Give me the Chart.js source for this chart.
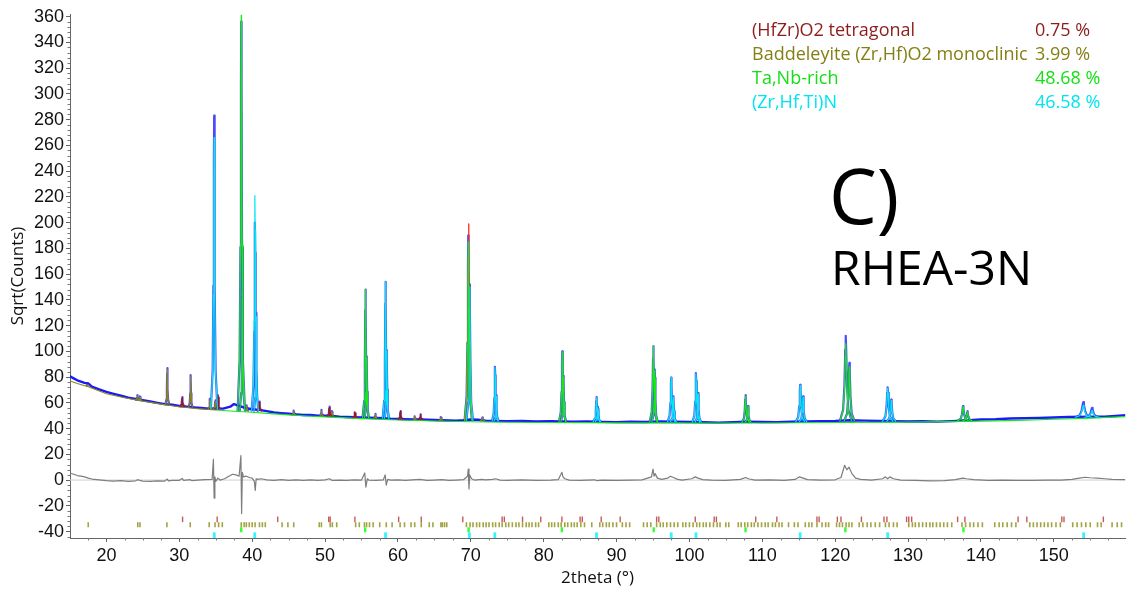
<!DOCTYPE html>
<html>
<head>
<meta charset="utf-8">
<title>RHEA-3N</title>
<script src="https://cdn.jsdelivr.net/npm/chart.js@4.4.1/dist/chart.umd.min.js"></script>
<style>
  html, body { margin: 0; padding: 0; background: #fff; }
  #wrap { position: relative; width: 1132px; height: 590px; }
  #legend { position: absolute; left: 752px; top: 17px; font-family: "Open Sans", sans-serif; font-size: 18px; line-height: 24px; }
  #legend .row { position: relative; height: 24px; white-space: nowrap; }
  #legend .pct { position: absolute; left: 283px; top: 0; }
  .tag { position: absolute; font-family: "Open Sans", sans-serif; color: #000; line-height: 1; white-space: nowrap; }
</style>
</head>
<body>
<div id="wrap">
  <canvas id="xrd" width="1132" height="590"></canvas>
  <div id="legend"></div>
  <div class="tag" style="left:829px; top:157px; font-size:76px;">C)</div>
  <div class="tag" style="left:831px; top:243px; font-size:48px;">RHEA-3N</div>
</div>
<script>
// phases of the refinement, legend order
const phaseNames = ['(HfZr)O2 tetragonal', 'Baddeleyite (Zr,Hf)O2 monoclinic', 'Ta,Nb-rich', '(Zr,Hf,Ti)N'];
const phaseShares = [0.75, 3.99, 48.68, 46.58];

// axis ticks
const xTickValues = [20, 30, 40, 50, 60, 70, 80, 90, 100, 110, 120, 130, 140, 150];
const yTickValues = [-40, -20, 0, 20, 40, 60, 80, 100, 120, 140, 160, 180, 200, 220, 240, 260, 280, 300, 320, 340, 360];

// measured pattern between the peaks (2theta, sqrt counts)
const obsBaseX = [15, 15.5, 16, 17, 17.5, 18, 19, 20, 21, 22, 23, 24, 25, 26, 27, 28, 29, 30, 31, 32, 33, 34, 35, 36, 37, 37.5, 38, 39, 40,
  41, 42, 43, 44, 45, 46, 47, 48, 49, 50, 51, 52, 53, 54, 55, 56, 57, 58, 59, 60, 61, 62, 63, 64, 65, 66, 67, 68, 69, 70, 71, 72,
  73, 75, 77, 79, 81, 84, 86, 88, 90, 92, 94, 96, 98, 100, 102, 104, 106, 108, 110, 112, 114, 116, 118, 120, 122, 124, 126, 128,
  130, 132, 134, 136, 138, 140, 142, 144, 146, 148, 150, 152, 156, 157, 158, 160];
const obsBaseY = [80.5, 79, 77.5, 75.5, 75, 72.5, 70.5, 68.5, 67, 65.5, 64, 63, 62, 61, 60, 59, 58.5, 57.5, 57, 56.5, 56, 55.5, 55.5, 55.5, 57, 59, 58, 56, 55,
  54.5, 53.5, 52.5, 52, 51.5, 51, 50.5, 50.5, 50, 50, 49.8, 49.3, 49, 48.8, 48.6, 48.4, 48.2, 48, 47.6, 47.5, 47.2, 47, 47, 46.8, 46.6, 46.5, 46.3, 46.2, 46.5, 47, 46.8, 46.2,
  46, 45.8, 45.9, 45.5, 45.7, 45.4, 45.6, 45.2, 45, 45.3, 45.1, 45.6, 45.4, 45.2, 44.9, 44.6, 45, 45.4, 45.1, 45, 45.3, 45.6, 45.8, 46, 46.5, 46.2, 45.9, 45.8,
  45.5, 45.7, 45.4, 45.8, 46.3, 47, 47.2, 47.8, 48, 48.3, 48.6, 49, 49.3, 49.2, 49.6, 50.5];

// refined background
const bgX = [15, 16, 17.5, 20, 22.5, 25, 27.5, 30, 32.5, 35, 37.5, 40, 42.5, 45, 47.5, 50, 55, 60, 65, 70, 75, 80, 90, 100, 110, 120, 130, 140, 145, 150, 155, 160];
const bgY = [77, 75, 72.5, 67, 64, 61.3, 59, 57, 55.5, 54.4, 53.5, 52.7, 51.6, 50.6, 49.8, 49.1, 47.7, 46.7, 45.9, 45.3, 44.9, 44.7, 44.4, 44.2, 44.3, 44.7, 45, 45.8, 46.4, 47.2, 48.1, 49.3];

// reflections: position, phase (0..3), calculated top, observed top, foot level, half width at the foot
const peakPos   = [17.45, 24.25, 24.6, 28.35, 30.4, 31.55, 34.2, 34.78, 34.95, 35.3, 38.5, 38.65, 39.25, 40.38, 40.55, 41.0, 45.7, 49.5, 50.6, 50.95,
  54.1, 55.55, 55.72, 56.9, 58.3, 58.47, 60.35, 62.3, 63.1, 65.9, 69.65, 69.85, 71.6, 73.32, 73.5, 82.55, 82.72, 87.25, 87.45, 95.05, 95.25,
  97.5, 97.8, 100.9, 101.2, 107.7, 108.05, 115.2, 115.6, 121.45, 121.95, 127.2, 127.7, 137.55, 138.15, 154.05, 155.25];
const peakPhase = [1, 1, 1, 1, 0, 1, 1, 3, 1, 0, 2, 2, 1, 3, 3, 0, 1, 1, 0, 1,
  0, 2, 2, 1, 3, 3, 0, 1, 0, 1, 2, 3, 1, 3, 3, 2, 2, 3, 3, 2, 2,
  3, 3, 3, 3, 2, 2, 3, 3, 2, 2, 3, 3, 2, 2, 3, 3];
const peakCalc  = [74, 65.5, 64.5, 86, 64, 81, 62.5, 266, 61, 65.5, 361, 158, 57.5, 221, 127, 60.5, 53.5, 54, 56.5, 53,
  52.5, 148, 95, 51, 154, 100, 53.5, 49.5, 51, 48.5, 185, 150, 48.5, 87.5, 65, 99.5, 80, 64, 56, 104.5, 85,
  79.5, 64.5, 82.5, 67, 65.5, 57, 73.5, 64.5, 106, 88, 71.5, 62, 57, 53, 58, 54];
const peakObs   = [75, 66, 65, 87, 64.5, 81.5, 63, 283, 62, 66, 356, 160, 58, 200, 130, 61, 54, 54.5, 57, 53.5,
  52.5, 148, 96, 51.5, 154, 101, 53.5, 49.5, 51, 49, 190, 152, 48.7, 88, 66, 100, 81, 64.5, 57, 104, 86,
  79.5, 65, 83, 67.5, 66, 57.5, 74, 65, 112, 91, 72, 62.5, 57.5, 53.5, 60.5, 56];
const peakBase  = [73.5, 62.5, 62.3, 59, 57.5, 57, 55.5, 55.5, 55.5, 55.5, 54, 54, 54, 54, 54, 54, 51, 50, 49.8, 49.8,
  48.7, 48.5, 48.5, 48.3, 48, 48, 47.4, 47, 47, 46.5, 46.5, 46.5, 46.3, 46, 46, 45.6, 45.6, 45.5, 45.5, 45.3, 45.3,
  45.4, 45.4, 45.1, 45.1, 45, 45, 45.3, 45.3, 46, 46, 45.8, 45.8, 46.2, 46.2, 48.8, 48.8];
const peakHalf  = [0.15, 0.2, 0.2, 0.25, 0.3, 0.25, 0.22, 0.45, 0.3, 0.3, 0.5, 0.35, 0.2, 0.45, 0.3, 0.3, 0.2, 0.2, 0.35, 0.2,
  0.25, 0.4, 0.3, 0.2, 0.4, 0.3, 0.3, 0.2, 0.3, 0.25, 0.5, 0.45, 0.3, 0.4, 0.3, 0.45, 0.35, 0.45, 0.35, 0.5, 0.4,
  0.5, 0.4, 0.5, 0.4, 0.5, 0.4, 0.6, 0.5, 0.8, 0.7, 0.7, 0.6, 0.7, 0.6, 1.1, 1.0];

// summed calculation where the Ta,Nb-rich and nitride reflections overlap
const sumPos = [69.7];
const sumTop = [199];

// difference curve (observed - calculated)
const diffX = [15, 15.5, 16, 16.5, 17, 17.5, 18, 19, 20, 21, 22, 23, 24, 24.3, 24.6, 25, 26, 27, 28, 28.35, 28.5, 29, 30, 30.4, 30.6, 31.5, 31.7,
  32.5, 33.5, 34.5, 34.68, 34.78, 34.88, 35, 35.3, 35.6, 36.2, 36.8, 37.3, 37.8, 38.2, 38.45, 38.55, 38.65, 38.8, 39.2, 39.6, 40, 40.3,
  40.42, 40.55, 40.8, 41.2, 42, 43, 44, 45, 46, 47, 48, 49, 50, 50.6, 51, 52, 53, 54, 55, 55.45, 55.6, 55.8, 56, 57, 58, 58.25, 58.4,
  58.6, 59, 60, 61, 62, 63, 64, 65, 66, 67, 68, 69, 69.55, 69.65, 69.75, 69.85, 70.1, 70.5, 71.5, 72, 73, 73.4, 74, 75, 77, 79, 81,
  82, 82.5, 82.65, 82.9, 83.5, 85, 87, 87.3, 88, 90, 92, 93.5, 94.8, 95, 95.15, 95.3, 95.6, 96.2, 97, 97.4, 97.8, 98.4, 99, 100.3,
  100.8, 101.2, 101.8, 103, 105, 107, 107.7, 108.2, 109, 111, 113, 114.5, 115.1, 115.6, 116.2, 118, 120, 120.8, 121.3, 121.6, 121.9,
  122.3, 122.8, 123.5, 125, 126.5, 126.9, 127.2, 127.5, 128, 129, 131, 133, 135, 136.5, 137.5, 138, 139, 141, 143, 145, 147, 149,
  151, 152.5, 153.5, 154.3, 155, 156, 157, 158, 159.8];
const diffY = [5.5, 4.5, 3.5, 3, 2.5, 1.5, 0.8, 0.2, -0.4, -0.8, -0.5, -1, -0.6, 0.3, -0.3, -0.8, -1, -0.6, -0.8, 0.8, -0.6, -0.3, -0.2, 1.3, -0.2, 0.3, -0.4,
  0, 0.3, 0.5, 16, -14, 2.5, -1, 1.5, 0, 1, 3, 4.5, 4, 3, 19, -26, 6, 2.5, 3, 2, 1.5, -1,
  -8, 1, 0.5, 1, 0.2, -0.2, 0.3, -0.2, 0.2, -0.3, 0.1, -0.2, 0.2, 1, -0.3, 0, -0.3, 0.2, 0, 5.5, -5.5, 1, 0, -0.3, 0.2, 4, -4,
  0.5, 0, 0.2, -0.2, 0.2, 0.5, -0.2, 0, 0.3, -0.2, 0, 0.3, 3, 8.5, -7, 4, 1, 0, 0.6, 0.2, 0.5, 1, 0, -0.3, 0.2, -0.2, 0,
  0.3, 6, 2.5, 1, 0, -0.2, 0.2, -0.5, 0, -0.3, 0, 0.2, 2.5, 8.5, 3, 5, 1.5, 0.5, 1.5, 3, 2, 0.5, 0, 1,
  2.5, 1.5, 0.3, 0, -0.2, 0.5, 2, 0.8, 0, 0.2, -0.2, 0.5, 2.5, 1.5, 0.3, 0, 0.2, 2, 11.5, 8, 10,
  5, 1.5, 0.5, 0, 1, 2.5, 1, 2.5, 1, 0, -0.3, -0.6, -0.4, 0.3, 1.5, 1, 0.3, -0.2, 0, -0.3, -0.2, 0,
  0, 0.5, 1.5, 2.2, 1.8, 1.5, 1, 0.5, 0.3];

// reflection markers per phase
const tetraTicks = [30.45, 35.2, 43.5, 50.5, 50.7, 54.1, 60.1, 63.2, 68.9, 74.3, 74.6, 77.1, 79.6, 82.5, 85.0, 85.3, 87.9, 90.5, 95.5, 95.8,
  100.8, 103.4, 103.7, 109.1, 112.0, 117.5, 117.8, 120.3, 120.8, 123.6, 126.7, 127.1, 129.8, 130.1, 130.5, 136.8, 137.8, 145.1, 146.3,
  151.1, 151.4, 156.8];
const monoTicks = [17.5, 24.3, 24.6, 28.3, 31.5, 34.1, 34.9, 35.4, 35.9, 38.5, 38.9, 39.2, 39.6, 40.0, 40.4, 41.0, 41.4, 41.8, 44.1, 44.9, 45.7,
  49.2, 49.5, 50.7, 51.0, 51.6, 54.2, 54.7, 55.4, 55.7, 56.1, 56.6, 57.5, 58.4, 59.2, 60.3, 60.9, 61.8, 62.3, 63.2, 64.3, 64.8, 65.9, 66.1,
  66.4, 66.7, 69.4, 69.9, 70.3, 70.8, 71.2, 71.7, 72.1, 72.5, 73.0, 73.4, 73.9, 74.3, 74.8, 75.2, 75.7, 76.2, 76.6, 77.1, 77.6, 78.0, 78.4,
  78.9, 79.3, 80.7, 81.1, 81.5, 82.0, 82.4, 82.9, 83.3, 83.8, 84.2, 84.6, 85.1, 85.6, 86.6, 87.7, 88.1, 88.6, 89.0, 89.5, 90.0, 90.8, 91.3,
  91.8, 93.7, 94.2, 94.7, 95.5, 96.0, 96.4, 96.9, 97.4, 97.9, 98.4, 99.1, 99.5, 100.0, 100.5, 101.0, 101.4, 101.9, 102.3, 102.8, 103.3,
  103.8, 104.2, 105.0, 105.4, 106.7, 107.1, 107.6, 108.0, 108.5, 108.9, 109.4, 109.9, 110.4, 110.8, 111.4, 111.8, 112.3, 112.7, 113.6,
  114.4, 114.9, 115.9, 116.4, 116.8, 117.5, 118.2, 118.7, 119.1, 120.2, 120.6, 121.0, 121.5, 121.9, 122.3, 123.3, 123.8, 124.4, 124.9,
  125.5, 126.1, 126.9, 127.4, 128.0, 128.5, 130.1, 130.6, 131.0, 131.5, 132.0, 132.5, 133.0, 133.4, 133.9, 134.4, 134.9, 135.4, 136.0,
  137.4, 137.9, 138.5, 139.0, 139.6, 140.2, 141.9, 142.5, 143.0, 143.6, 144.2, 144.8, 146.7, 147.2, 147.7, 148.2, 148.7, 149.2, 149.7,
  150.3, 150.9, 152.6, 153.2, 153.8, 154.4, 155.0, 156.0, 156.5, 158.0, 158.7, 159.3];
const tanbTicks = [38.5, 55.5, 69.7, 82.5, 95.1, 107.7, 121.4, 137.6];
const nitrideTicks = [34.8, 40.35, 58.3, 69.8, 73.3, 87.25, 97.5, 100.9, 115.2, 127.2, 154.1];

// ---- drawing ----
const phaseColors = ['#8e1c1c', '#8a8616', '#18e818', '#00e8f0'];
const legendColors = ['#8e1c1c', '#847f14', '#14e014', '#00e4f0'];
const tickColors = ['rgba(190,60,60,0.85)', 'rgba(140,140,20,0.8)', '#33ff33', '#33f5ff'];

// outline of one reflection: offsets in half widths, fraction of the height
const PROFILE = [[-1, 0], [-0.45, 0.13], [-0.22, 0.42], [-0.08, 0.84], [0, 1], [0.08, 0.84], [0.22, 0.42], [0.45, 0.13], [1, 0]];

function outline(pos, top, base, half) {
  const pts = PROFILE.map(([d, f]) => ({ x: pos + d * half, y: base + f * (top - base) }));
  pts.push({ x: pos + half, y: null });
  return pts;
}

function zip(xs, ys) { return xs.map((x, i) => ({ x, y: ys[i] })); }

function peaksOf(phase, tops) {
  let pts = [];
  peakPos.forEach((p, i) => {
    if (phase === null || peakPhase[i] === phase) pts = pts.concat(outline(p, tops[i], peakBase[i], peakHalf[i]));
  });
  return pts;
}

let calcTotal = peaksOf(0, peakCalc);
sumPos.forEach((p, i) => { calcTotal = calcTotal.concat(outline(p, sumTop[i], 46.5, 0.5)); });

const curve = (label, data, color, width, extra) => Object.assign({
  label, data, showLine: true, borderColor: color, borderWidth: width, pointRadius: 0,
  spanGaps: false, tension: 0, borderJoinStyle: 'round', borderCapStyle: 'round'
}, extra || {});

const marks = (label, xs, level, color, radius, width) => ({
  label, data: xs.map(x => ({ x, y: level })), showLine: false, pointStyle: 'line', rotation: 90,
  pointRadius: radius, pointBorderColor: color, pointBorderWidth: width, borderColor: color, clip: false
});

const minorTicks = {
  id: 'minorTicks',
  afterDraw(chart) {
    const { ctx, chartArea: a, scales: { x, y } } = chart;
    ctx.save();
    ctx.strokeStyle = '#7a7a7a';
    ctx.lineWidth = 1;
    ctx.beginPath();
    for (let v = -44; v <= 360; v += 4) {
      if (v % 20 === 0) continue;
      const py = Math.round(y.getPixelForValue(v)) + 0.5;
      ctx.moveTo(a.left - 2.5, py); ctx.lineTo(a.left, py);
    }
    for (let v = 17.5; v < 160; v += 2.5) {
      if (v % 10 === 0) continue;
      const px = Math.round(x.getPixelForValue(v)) + 0.5;
      ctx.moveTo(px, a.bottom); ctx.lineTo(px, a.bottom + 2.5);
    }
    ctx.stroke();
    ctx.restore();
  }
};

Chart.defaults.font.family = '"Liberation Sans", Arial, sans-serif';
Chart.defaults.color = '#111';

// listed back to front; the first dataset ends up on top
const layers = [
  curve('zero', [{ x: 15, y: 0 }, { x: 160, y: 0 }], '#cfcfcf', 1),
  curve('difference', zip(diffX, diffY), '#7d7d7d', 1.2),
  curve('observed', zip(obsBaseX, obsBaseY), 'rgb(25,25,250)', 2.4),
  curve('observed peaks', peaksOf(null, peakObs), 'rgba(30,30,250,0.8)', 2.2),
  curve('background', zip(bgX, bgY), phaseColors[2], 1.1, {
    segment: { borderColor: c => c.p0.parsed.x < 33 ? phaseColors[1] : phaseColors[2] }
  }),
  curve('calculated', calcTotal, 'rgb(255,40,40)', 1.3),
  curve(phaseNames[1], peaksOf(1, peakCalc), phaseColors[1], 1.2),
  curve(phaseNames[0], peaksOf(0, peakCalc), phaseColors[0], 1.2),
  curve(phaseNames[3], peaksOf(3, peakCalc), phaseColors[3], 1.2),
  curve(phaseNames[2], peaksOf(2, peakCalc), phaseColors[2], 1.2),
  marks('ticks 0', tetraTicks, -30.5, tickColors[0], 2.8, 1.4),
  marks('ticks 1', monoTicks, -34.7, tickColors[1], 2.5, 1.6),
  marks('ticks 2', tanbTicks, -38.6, tickColors[2], 2.5, 2.4),
  marks('ticks 3', nitrideTicks, -42.8, tickColors[3], 2.8, 2.8)
].reverse();

new Chart(document.getElementById('xrd'), {
  type: 'scatter',
  data: { datasets: layers },
  options: {
    responsive: false,
    animation: false,
    devicePixelRatio: 1,
    layout: { padding: { top: 14, right: 1, left: 0, bottom: 0 } },
    plugins: { legend: { display: false }, tooltip: { enabled: false } },
    scales: {
      x: {
        type: 'linear', min: 15, max: 159.8,
        afterBuildTicks: s => { s.ticks = xTickValues.map(value => ({ value })); },
        afterFit: s => { s.height = 52; },
        grid: { drawOnChartArea: false, drawTicks: true, tickLength: 4, color: '#666' },
        border: { color: '#666' },
        ticks: { font: { size: 18 }, padding: 3, maxRotation: 0 },
        title: { display: true, text: '2theta (°)', font: { family: '"Open Sans", sans-serif', size: 17 }, padding: { top: 0, bottom: 2 } }
      },
      y: {
        type: 'linear', min: -45, max: 362,
        afterBuildTicks: s => { s.ticks = yTickValues.map(value => ({ value })); },
        afterFit: s => { s.width = 70; },
        grid: { drawOnChartArea: false, drawTicks: true, tickLength: 4, color: '#666' },
        border: { color: '#666' },
        ticks: { font: { size: 18 }, padding: 2 },
        title: { display: true, text: 'Sqrt(Counts)', font: { family: '"Open Sans", sans-serif', size: 17 }, padding: { top: 8, bottom: 0 } }
      }
    }
  },
  plugins: [minorTicks]
});

// phase legend with weight fractions
const legend = document.getElementById('legend');
phaseNames.forEach((name, i) => {
  const row = document.createElement('div');
  row.className = 'row';
  row.style.color = legendColors[i];
  row.innerHTML = '<span></span><span class="pct"></span>';
  row.children[0].textContent = name;
  row.children[1].textContent = phaseShares[i].toFixed(2) + ' %';
  legend.appendChild(row);
});
</script>
</body>
</html>
